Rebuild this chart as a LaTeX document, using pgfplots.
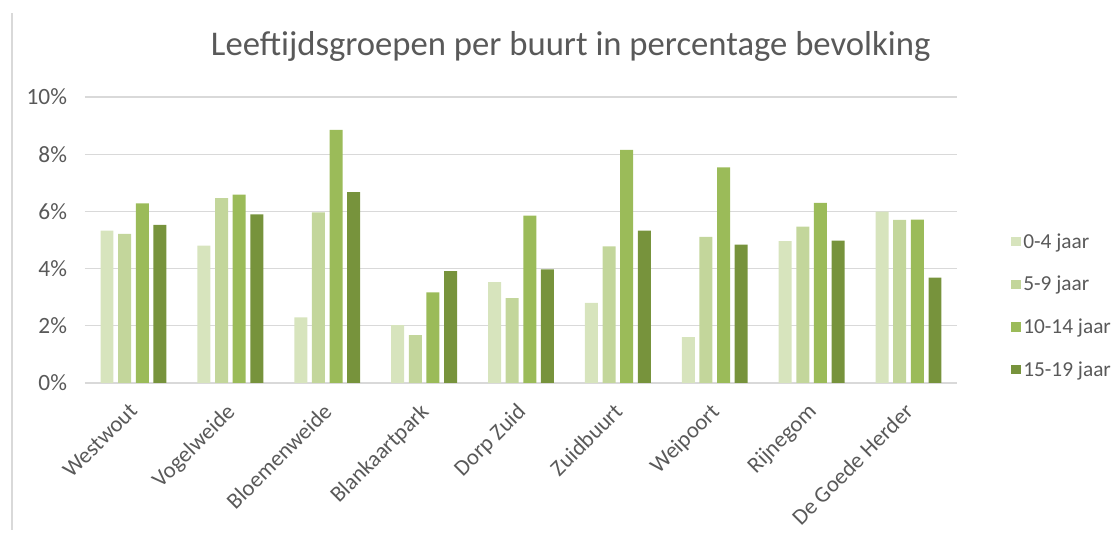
\documentclass[border=0pt]{standalone}
\usepackage{pgfplots}
\pgfplotsset{compat=1.18}
\usepackage{fontspec}
\setmainfont{Carlito}
\definecolor{txt}{HTML}{595959}
\definecolor{gridc}{HTML}{D9D9D9}
\definecolor{ca}{HTML}{D7E4BD}
\definecolor{cb}{HTML}{C3D69B}
\definecolor{cc}{HTML}{9BBB59}
\definecolor{cd}{HTML}{77933C}
\begin{document}
\begin{tikzpicture}
\path[use as bounding box] (0,0) rectangle (838.5pt,400.5pt);
\draw[gridc, line width=0.8pt] (9pt,3pt) -- (9pt,390.75pt);
\node[txt, font=\fontsize{26}{30}\selectfont] at (428pt,366pt) {Leeftijdsgroepen per buurt in percentage bevolking};
\begin{axis}[
    at={(63.75pt,113.25pt)}, anchor=south west,
    scale only axis, width=654pt, height=214.5pt,
    ymin=0, ymax=10, xmin=-0.5, xmax=8.5,
    ytick={0,2,4,6,8,10},
    yticklabels={0\%,2\%,4\%,6\%,8\%,10\%},
    xtick={0,...,8},
    xticklabels={Westwout,Vogelweide,Bloemenweide,Blankaartpark,Dorp Zuid,Zuidbuurt,Weipoort,Rijnegom,De Goede Herder},
    xticklabel style={font=\fontsize{17}{20}\selectfont, text=txt, xshift=-4pt, yshift=-14pt, rotate=45, anchor=north east, inner sep=0pt},
    yticklabel style={font=\fontsize{17.5}{20}\selectfont, text=txt, xshift=-10pt},
    major tick length=0pt,
    xmajorgrids=false, ymajorgrids=true,
    grid style={gridc, line width=0.8pt},
    axis line style={draw=none},
    bar width=0.134,
    ybar=0pt,
    legend style={at={(1.062,0.27)}, anchor=west, draw=none, fill=none,
      font=\fontsize{16}{19}\selectfont, text=txt, row sep=15.5pt, inner sep=0pt,
      legend cell align=left},
    legend image code/.code={\fill[#1] (0pt,-3.5pt) rectangle (7pt,3.5pt);},
]
\addplot[draw=none, fill=ca, bar shift=-0.273] coordinates {(0,5.33) (1,4.80) (2,2.29) (3,2.02) (4,3.53) (5,2.80) (6,1.60) (7,4.96) (8,5.99)};
\addplot[draw=none, fill=cb, bar shift=-0.091] coordinates {(0,5.21) (1,6.46) (2,5.97) (3,1.67) (4,2.97) (5,4.78) (6,5.11) (7,5.47) (8,5.70)};
\addplot[draw=none, fill=cc, bar shift=0.091] coordinates {(0,6.28) (1,6.59) (2,8.85) (3,3.17) (4,5.85) (5,8.15) (6,7.54) (7,6.30) (8,5.71)};
\addplot[draw=none, fill=cd, bar shift=0.273] coordinates {(0,5.53) (1,5.90) (2,6.67) (3,3.91) (4,3.97) (5,5.33) (6,4.84) (7,4.98) (8,3.68)};
\legend{0-4 jaar,5-9 jaar,10-14 jaar,15-19 jaar}
\end{axis}
\end{tikzpicture}
\end{document}
